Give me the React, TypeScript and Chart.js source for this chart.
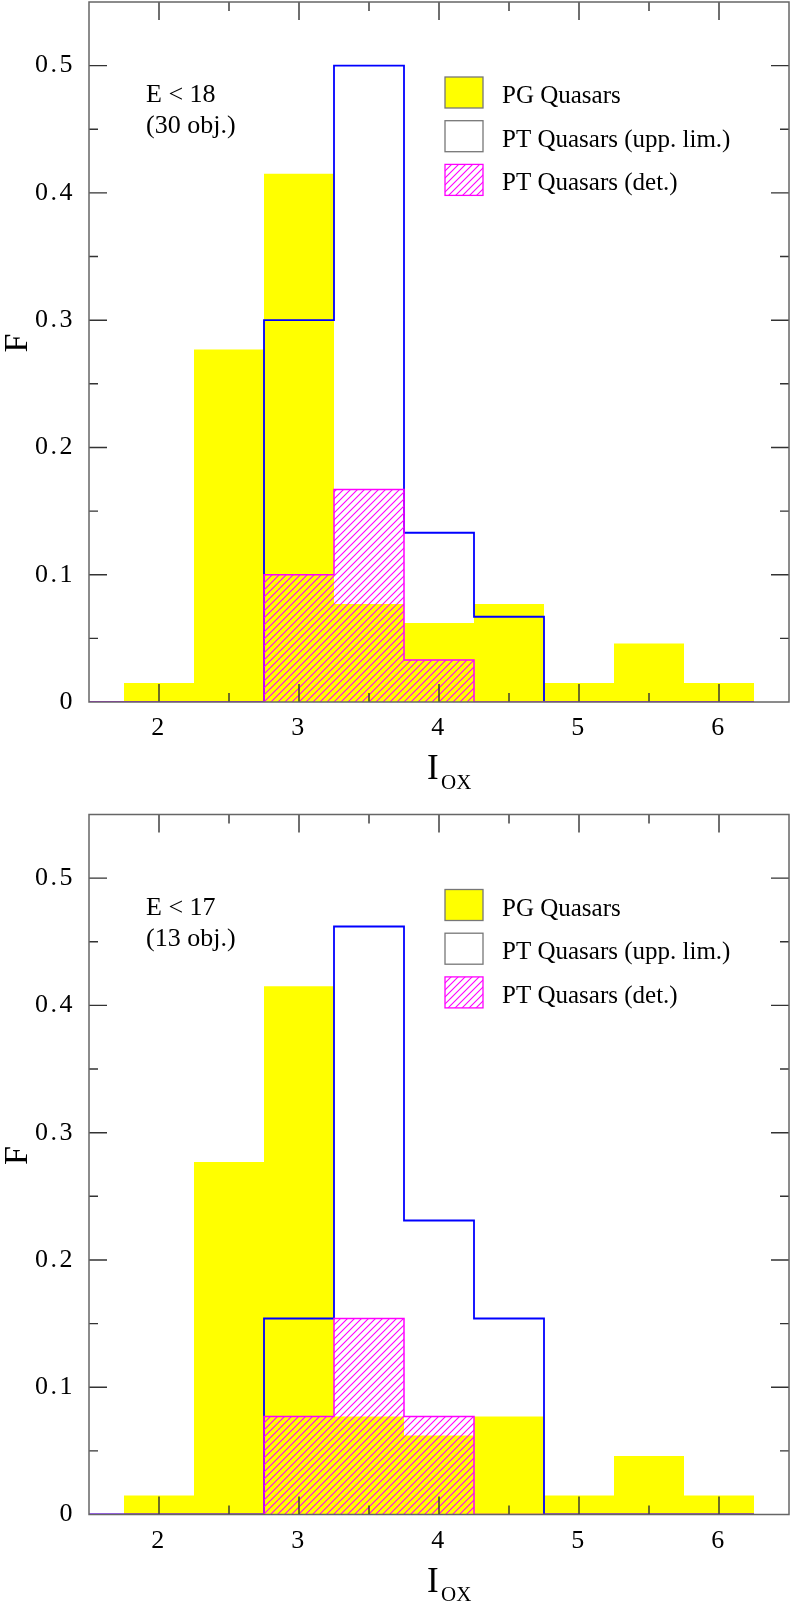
import React, { useEffect, useRef } from 'react';
import { Chart, registerables } from 'chart.js';

Chart.register(...registerables);

// ---- data ----
const binCenters = [1.5, 2.0, 2.5, 3.0, 3.5, 4.0, 4.5, 5.0, 5.5, 6.0];
const binHalfWidth = 0.25;
const pgQuasars = [0, 0.015, 0.277, 0.415, 0.077, 0.062, 0.077, 0.015, 0.046, 0.015];
const ptUpperE18 = [0, 0, 0, 0.3, 0.5, 0.133, 0.067, 0, 0, 0];
const ptDetE18 = [0, 0, 0, 0.1, 0.167, 0.033, 0, 0, 0, 0];
const ptUpperE17 = [0, 0, 0, 0.154, 0.462, 0.231, 0.154, 0, 0, 0];
const ptDetE17 = [0, 0, 0, 0.077, 0.154, 0.077, 0, 0, 0, 0];
const xTickValues = [2, 3, 4, 5, 6];
const yTickValues = [0, 0.1, 0.2, 0.3, 0.4, 0.5];
const xRange = [1.5, 6.5];
const yRange = [0, 0.55];
const legendLabels = ['PG Quasars', 'PT Quasars (upp. lim.)', 'PT Quasars (det.)'];
const panelTitles = [
  ['E < 18', '(30 obj.)'],
  ['E < 17', '(13 obj.)'],
];

const FONT = "'Liberation Serif', 'Times New Roman', serif";
const YELLOW = '#ffff00';
const BLUE = '#0000ff';
const MAGENTA = '#ff00ff';

function stepPoints(values: number[]) {
  const pts = values.map((v, i) => ({ x: binCenters[i] - binHalfWidth, y: v }));
  pts.push({ x: binCenters[binCenters.length - 1] + binHalfWidth, y: 0 });
  return pts;
}

function makeHatch(ctx: CanvasRenderingContext2D) {
  const s = 7;
  const c = document.createElement('canvas');
  c.width = s;
  c.height = s;
  const g = c.getContext('2d')!;
  g.strokeStyle = MAGENTA;
  g.lineWidth = 1.1;
  g.beginPath();
  g.moveTo(0, s);
  g.lineTo(s, 0);
  g.moveTo(-1, 1);
  g.lineTo(1, -1);
  g.moveTo(s - 1, s + 1);
  g.lineTo(s + 1, s - 1);
  g.stroke();
  return ctx.createPattern(c, 'repeat')!;
}

type PanelProps = {
  width: number;
  height: number;
  padTop: number;
  bottomSpace: number;
  upper: number[];
  det: number[];
  title: string[];
};

function Panel({ width, height, padTop, bottomSpace, upper, det, title }: PanelProps) {
  const ref = useRef<HTMLCanvasElement | null>(null);

  useEffect(() => {
    const canvas = ref.current!;
    const ctx = canvas.getContext('2d')!;
    const hatch = makeHatch(ctx);

    const decor = {
      id: 'decor',
      beforeDraw(chart: any) {
        (chart.ctx as any).letterSpacing = '2.5px';
      },
      beforeDatasetsDraw(chart: any) {
        (chart.ctx as any).letterSpacing = '0px';
      },
      afterDraw(chart: any) {
        const c = chart.ctx as CanvasRenderingContext2D;
        (c as any).letterSpacing = '0px';
        const a = chart.chartArea;
        const xs = chart.scales.x;
        const ys = chart.scales.y;
        c.save();
        // inside ticks on all sides
        c.strokeStyle = '#333';
        c.lineWidth = 1.4;
        c.beginPath();
        for (let k = 0; k <= 22; k++) {
          const v = xRange[0] + k * 0.5;
          if (v <= xRange[0] || v >= xRange[1]) continue;
          const px = xs.getPixelForValue(v);
          const len = Math.abs(v - Math.round(v)) < 1e-6 ? 18 : 9;
          c.moveTo(px, a.bottom);
          c.lineTo(px, a.bottom - len);
          c.moveTo(px, a.top);
          c.lineTo(px, a.top + len);
        }
        for (let k = 0; k <= 11; k++) {
          const v = k * 0.05;
          if (v <= yRange[0] + 1e-9 || v >= yRange[1] - 1e-9) continue;
          const py = ys.getPixelForValue(v);
          const major = k % 2 === 0;
          const len = major ? 18 : 9;
          c.moveTo(a.left, py);
          c.lineTo(a.left + len, py);
          c.moveTo(a.right, py);
          c.lineTo(a.right - len, py);
        }
        c.stroke();
        // frame
        c.strokeStyle = '#666';
        c.lineWidth = 1.5;
        c.strokeRect(a.left, a.top, a.right - a.left, a.bottom - a.top);

        // panel title text
        c.fillStyle = '#000';
        c.font = `26px ${FONT}`;
        c.textAlign = 'left';
        c.textBaseline = 'alphabetic';
        c.fillText(title[0], 146, a.top + 100);
        c.fillText(title[1], 146, a.top + 131);

        // legend
        const boxX = 445;
        const boxW = 38;
        const boxH = 31;
        const rowGap = 43.7;
        for (let i = 0; i < 3; i++) {
          const by = a.top + 75 + i * rowGap;
          if (i === 0) {
            c.fillStyle = YELLOW;
            c.fillRect(boxX, by, boxW, boxH);
            c.strokeStyle = '#777';
          } else if (i === 1) {
            c.fillStyle = '#fff';
            c.fillRect(boxX, by, boxW, boxH);
            c.strokeStyle = '#777';
          } else {
            c.fillStyle = hatch;
            c.fillRect(boxX, by, boxW, boxH);
            c.strokeStyle = MAGENTA;
          }
          c.lineWidth = 1.3;
          c.strokeRect(boxX, by, boxW, boxH);
          c.fillStyle = '#000';
          c.font = `25px ${FONT}`;
          c.fillText(legendLabels[i], 502, by + 26);
        }

        // y axis title
        c.save();
        c.translate(27, (a.top + a.bottom) / 2 - 9);
        c.rotate(-Math.PI / 2);
        c.font = `34px ${FONT}`;
        c.textAlign = 'center';
        c.textBaseline = 'alphabetic';
        c.fillStyle = '#000';
        c.fillText('F', 0, 0);
        c.restore();

        // x axis title I_OX
        c.fillStyle = '#000';
        c.textAlign = 'left';
        c.font = `35px ${FONT}`;
        c.fillText('I', 427, a.bottom + 77);
        c.font = `21px ${FONT}`;
        c.fillText('OX', 441, a.bottom + 86.5);
        c.restore();
      },
    };

    const chart = new Chart(canvas, {
      type: 'line',
      data: {
        datasets: [
          {
            label: legendLabels[2],
            data: stepPoints(det),
            stepped: 'before',
            borderColor: MAGENTA,
            borderWidth: 1.5,
            backgroundColor: hatch,
            fill: 'origin',
            pointRadius: 0,
            order: 0,
          },
          {
            label: legendLabels[1],
            data: stepPoints(upper),
            stepped: 'before',
            borderColor: BLUE,
            borderWidth: 1.8,
            fill: false,
            pointRadius: 0,
            order: 1,
          },
          {
            label: legendLabels[0],
            data: stepPoints(pgQuasars),
            stepped: 'before',
            borderColor: 'rgba(0,0,0,0)',
            borderWidth: 0,
            backgroundColor: YELLOW,
            fill: 'origin',
            pointRadius: 0,
            order: 2,
          },
        ],
      },
      options: {
        responsive: false,
        animation: false,
        events: [],
        layout: { padding: { top: padTop, right: 2, left: 0, bottom: 0 } },
        plugins: {
          legend: { display: false },
          tooltip: { enabled: false },
        },
        scales: {
          x: {
            type: 'linear',
            min: xRange[0],
            max: xRange[1],
            grid: { display: false, drawTicks: false },
            border: { display: false },
            afterBuildTicks: (s: any) => {
              s.ticks = xTickValues.map((v) => ({ value: v }));
            },
            afterFit: (s: any) => {
              s.height = bottomSpace;
              s.paddingLeft = 0;
              s.paddingRight = 0;
              s.paddingTop = 0;
              s.paddingBottom = 0;
            },
            ticks: {
              font: { family: FONT, size: 26 },
              color: '#000',
              padding: 11,
              maxRotation: 0,
              autoSkip: false,
              callback: (v: any) => String(v),
            },
          },
          y: {
            type: 'linear',
            min: yRange[0],
            max: yRange[1],
            grid: { display: false, drawTicks: false },
            border: { display: false },
            afterBuildTicks: (s: any) => {
              s.ticks = yTickValues.map((v) => ({ value: v }));
            },
            afterFit: (s: any) => {
              s.width = 89;
              s.paddingLeft = 0;
              s.paddingRight = 0;
              s.paddingTop = 0;
              s.paddingBottom = 0;
            },
            ticks: {
              font: { family: FONT, size: 26 },
              color: '#000',
              padding: 14,
              autoSkip: false,
              callback: (v: any) => (Number(v) === 0 ? '0' : Number(v).toFixed(1)),
            },
          },
        },
      },
      plugins: [decor],
    } as any);

    return () => chart.destroy();
  }, []);

  return <canvas ref={ref} width={width} height={height} style={{ display: 'block', width, height }} />;
}

export default function App() {
  useEffect(() => {
    document.body.style.margin = '0';
    document.body.style.background = '#fff';
  }, []);
  return (
    <div style={{ width: 791, height: 1604, background: '#fff' }}>
      <Panel width={791} height={812} padTop={2} bottomSpace={110} upper={ptUpperE18} det={ptDetE18} title={panelTitles[0]} />
      <Panel width={791} height={792} padTop={2.5} bottomSpace={89.5} upper={ptUpperE17} det={ptDetE17} title={panelTitles[1]} />
    </div>
  );
}
